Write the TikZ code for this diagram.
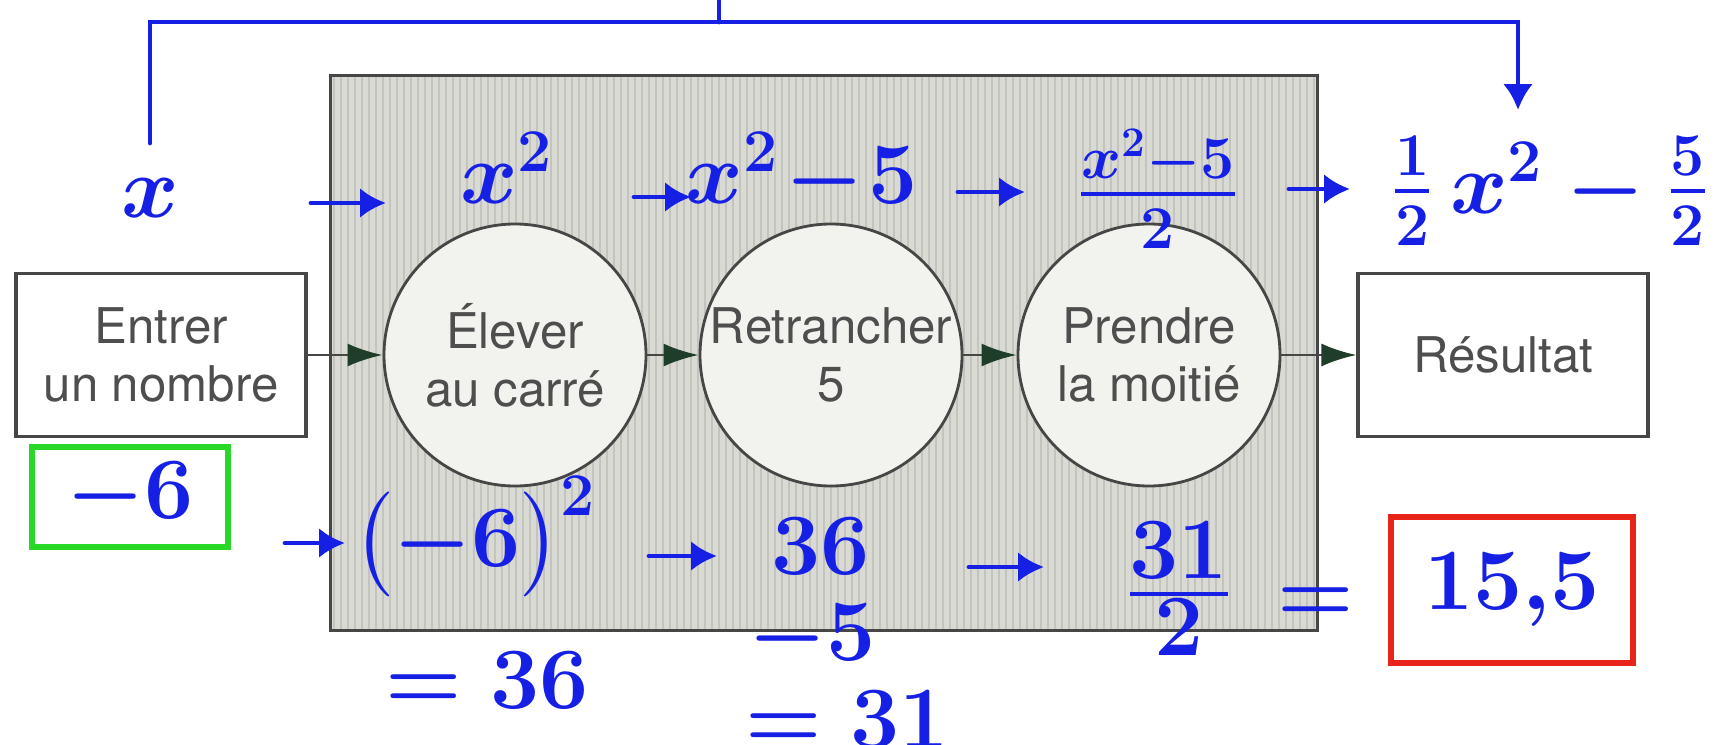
\documentclass[tikz,border=0pt]{standalone}
\usepackage{amsmath}
\usepackage{fontspec}
\newfontfamily\heros{TeX Gyre Heros}
\usetikzlibrary{arrows.meta,calc}
\definecolor{inkblue}{RGB}{22,32,228}
\definecolor{frame}{RGB}{70,70,70}
\definecolor{print}{RGB}{78,78,78}
\definecolor{tipgreen}{RGB}{30,62,42}
\definecolor{shade}{RGB}{218,218,212}
\definecolor{stripe}{RGB}{196,196,191}
\definecolor{disc}{RGB}{242,242,239}
\definecolor{okgreen}{RGB}{40,215,40}
\definecolor{alarm}{RGB}{232,35,25}
\newcommand{\boxfont}{\heros\fontsize{14}{16.5}\selectfont}
\newcommand{\handfont}{\fontsize{24}{28}\selectfont\boldmath}
\tikzset{
  >={Latex[length=2.6mm,width=3mm]},
  printbox/.style={draw=frame,fill=white,line width=0.9pt,text=print,font=\boxfont,
    align=center,minimum width=2.9cm,minimum height=1.63cm},
  stage/.style={circle,draw=frame,fill=disc,line width=0.8pt,text=print,font=\boxfont,
    align=center,minimum size=2.62cm,inner sep=-8pt},
  link/.style={draw=frame,line width=0.8pt,-{Latex[length=3.5mm,width=2.3mm,color=tipgreen]}},
  hand/.style={text=inkblue,font=\handfont,inner sep=1pt,anchor=base},
  ink/.style={draw=inkblue,line width=1.4pt,line cap=round},
  scribble/.style={ink,->},
  tally/.style={draw=#1,line width=1.6pt,text=inkblue,font=\handfont,
    minimum width=1.96cm,minimum height=1cm},
}
\begin{document}
\begin{tikzpicture}
  \useasboundingbox (0,0) rectangle (17.21,7.44);
  \fill[white] (0,0) rectangle (17.21,7.44);
  % shaded machine
  \node[fill=shade,minimum width=9.86cm,minimum height=5.54cm,inner sep=0] (machine) at (8.24,3.91) {};
  \begin{scope}
    \clip (machine.south west) rectangle (machine.north east);
    \foreach \s in {0.04,0.11,...,9.86}
      \draw[stripe,line width=0.6pt] ([xshift=\s cm]machine.south west) -- ([xshift=\s cm]machine.north west);
  \end{scope}
  \draw[frame,line width=1pt] (machine.south west) rectangle (machine.north east);

  \node[printbox] (entrer) at (1.61,3.89) {Entrer\\un nombre};
  \node[stage] (carre) at (5.15,3.89) {Élever\\au carré};
  \node[stage] (retr) at (8.31,3.89) {Retrancher\\5};
  \node[stage] (moitie) at (11.49,3.89) {Prendre\\la moitié};
  \node[printbox] (result) at (15.03,3.89) {Résultat};
  \foreach \a/\b in {entrer/carre,carre/retr,retr/moitie,moitie/result}
    \draw[link] (\a) -- (\b);

  % handwritten: with x
  \node[hand] (xin) at (1.50,5.27) {$x$};
  \node[hand] (sq) at (5.07,5.41) {$x^{2}$};
  \node[hand] (sub) at (8.02,5.41) {$x^{2}\!-\!5$};
  \node[hand] (halfx) at (11.58,5.28) {$\frac{x^{2}-5}{2}$};
  \node[hand] (formula) at (15.50,5.31) {$\frac{1}{2}\,x^{2}-\frac{5}{2}$};
  \coordinate (bar) at (7.19,7.22);
  \coordinate (feed) at (15.18,6.34);
  \draw[scribble,shorten <=0.31cm] (xin) |- (bar) -| (feed);
  \draw[ink] (bar) -- ++(0,0.25);
  \draw[scribble] (xin.base) ++(1.61,0.14) -- ++(0.75,0);
  \draw[scribble] (sq.base) ++(1.27,0.06) -- ++(0.57,0);
  \draw[scribble] (sub.base) ++(1.56,0.11) -- ++(0.67,0);
  \draw[scribble] (halfx.base) ++(1.31,0.27) -- ++(0.61,0);

  % handwritten: with -6
  \node[tally=okgreen] (start) at (1.30,2.47) {\raisebox{0.14cm}{$-6$}};
  \node[hand] (sqn) at (4.75,1.78) {$\bigl(-6\bigr)^{2}$};
  \node[hand] (eqsq) at (4.87,0.36) {$=36$};
  \node[hand] (n36) at (8.21,1.70) {$36$};
  \node[hand] (less) at (8.12,0.84) {$-5$};
  \node[hand] (eqdiff) at (8.47,-0.03) {$=31$};
  \node[hand] (frac31) at (11.79,1.28) {$\frac{\textstyle 31}{\textstyle 2}$};
  \node[hand] (eq) at (13.16,1.23) {$=$};
  \node[tally=alarm,minimum width=2.42cm,minimum height=1.46cm] (final) at (15.12,1.54) {$15{,}5$};
  \draw[scribble] (start) ++(1.55,-0.46) -- ++(0.60,0);
  \draw[scribble] (sqn.base) ++(1.74,0.10) -- ++(0.68,0);
  \draw[scribble] (n36.base) ++(1.48,0.07) -- ++(0.75,0);
\end{tikzpicture}
\end{document}
